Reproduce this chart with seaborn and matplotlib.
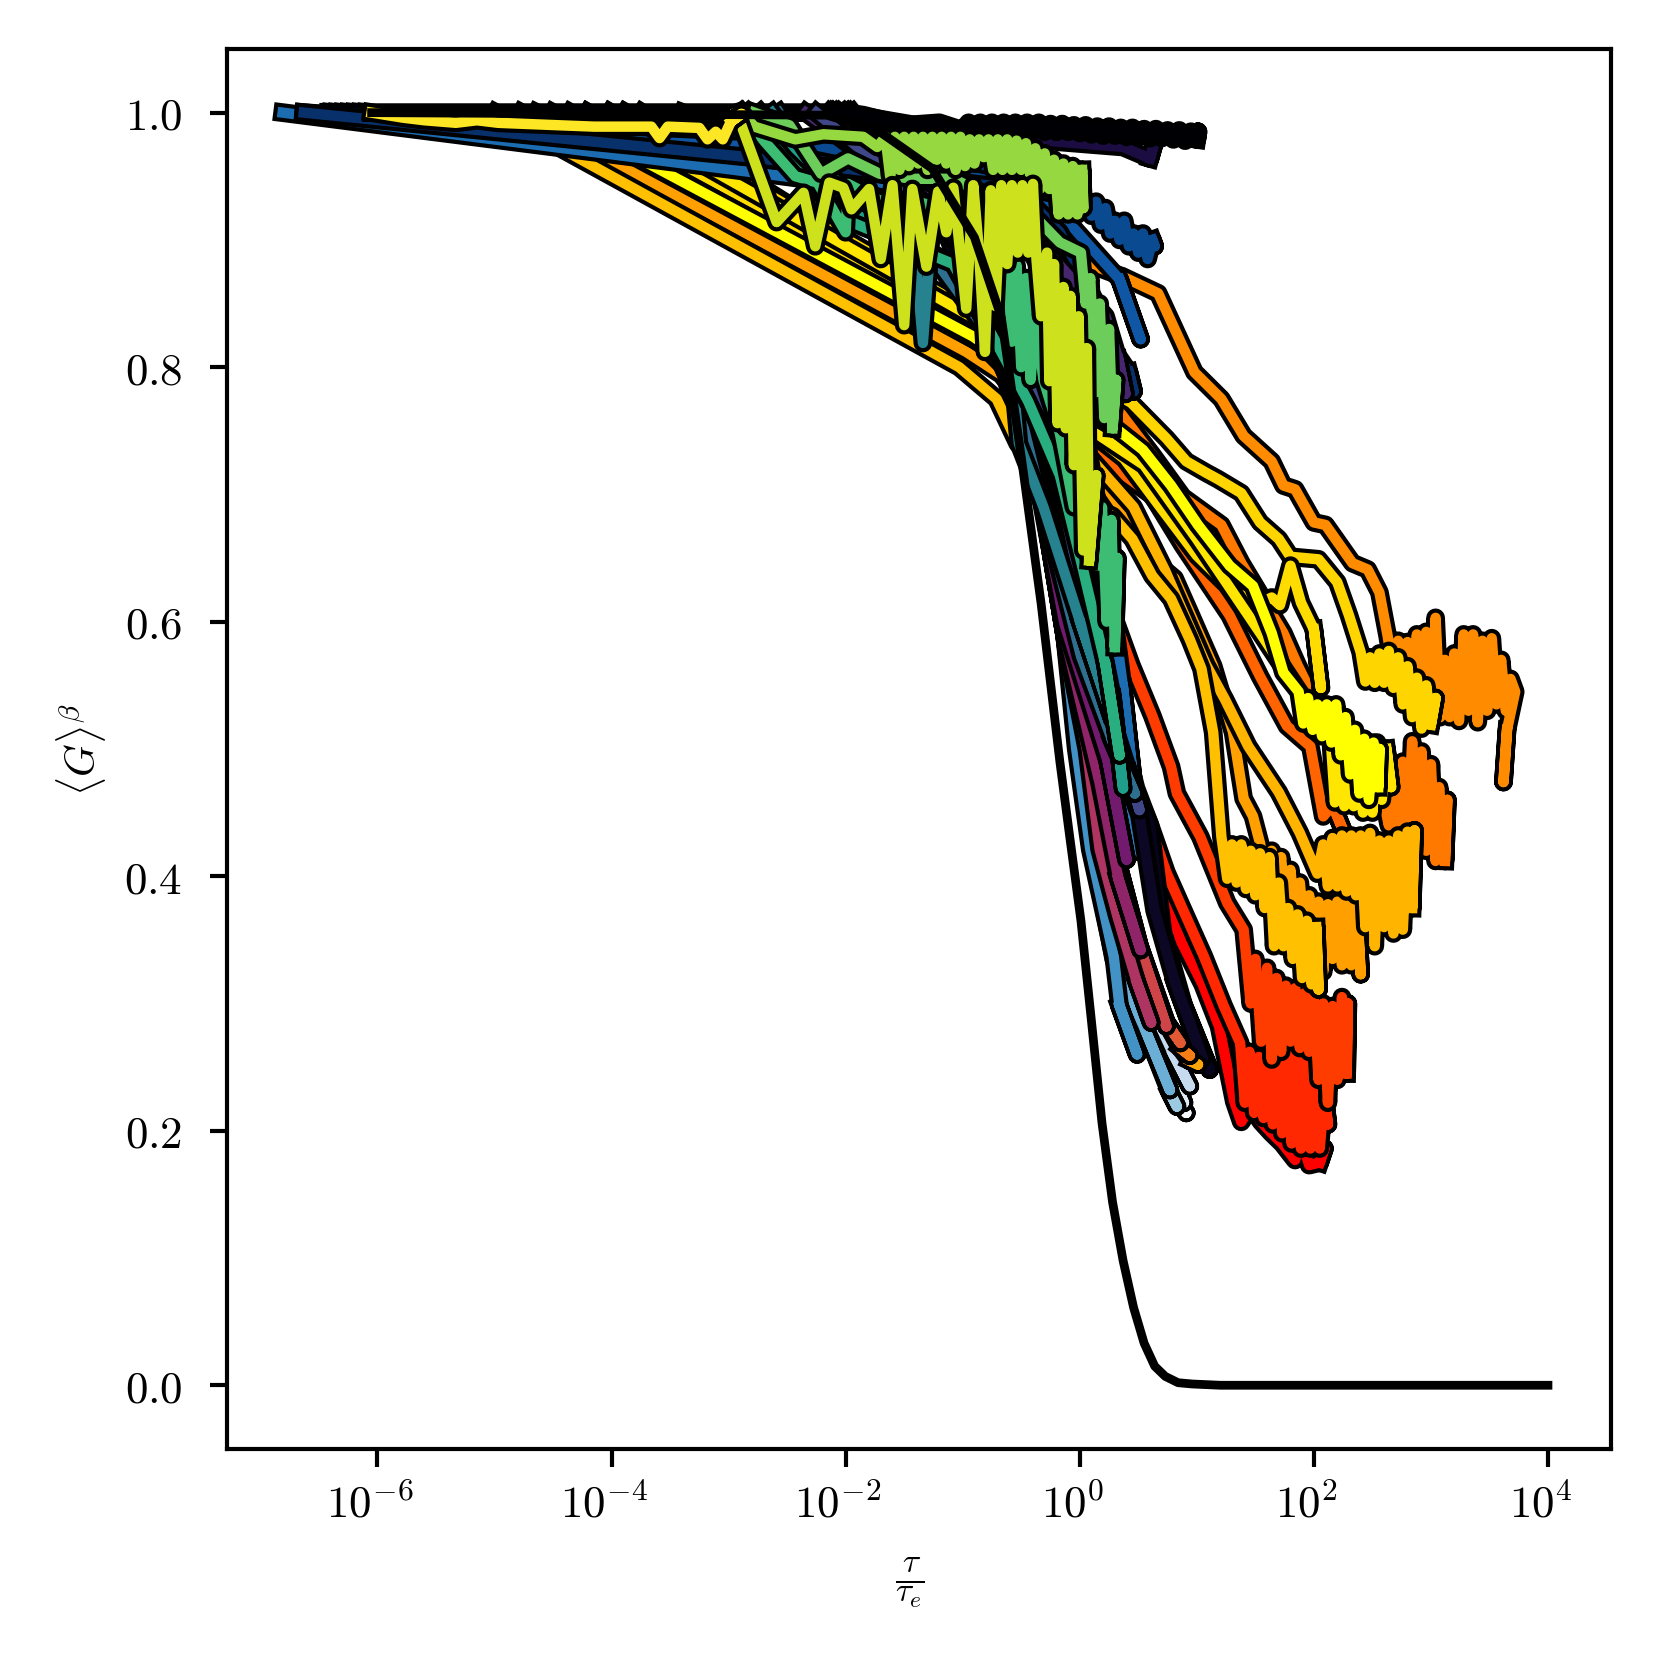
import pandas as pd
import matplotlib
matplotlib.use("Agg")
import matplotlib.pyplot as plt
import matplotlib.patheffects as pe
from matplotlib.transforms import ScaledTranslation
import seaborn as sns

# log10(tau/tau_e) and <G>^beta, one pair per curve
# autumn family
e_a00 = [-4.20, -0.71, -0.17, 0.19, 0.48, 0.60, 0.73, 0.87, 1.05, 1.19, 1.32, 1.38, 1.46, 1.55, 1.64, 1.73, 1.84, 1.89, 1.96, 2.05, 2.09]
g_a00 = [1.0, 0.815, 0.648, 0.548, 0.456, 0.423, 0.382, 0.348, 0.315, 0.282, 0.223, 0.207, 0.219, 0.207, 0.198, 0.190, 0.177, 0.194, 0.173, 0.175, 0.186]
e_a01 = [-4.01, -0.67, -0.13, 0.24, 0.48, 0.60, 0.74, 0.89, 1.06, 1.23, 1.37, 1.41, 1.45, 1.49, 1.53, 1.57, 1.61, 1.65, 1.69, 1.73, 1.77, 1.81, 1.85, 1.89, 1.93, 1.97, 2.01, 2.05, 2.09, 2.12]
g_a01 = [1.0, 0.815, 0.656, 0.556, 0.469, 0.440, 0.403, 0.372, 0.337, 0.298, 0.269, 0.222, 0.262, 0.214, 0.258, 0.210, 0.262, 0.205, 0.258, 0.198, 0.261, 0.190, 0.258, 0.186, 0.256, 0.186, 0.246, 0.186, 0.228, 0.205]
e_a02 = [-3.88, -0.58, -0.08, 0.44, 0.62, 0.78, 0.83, 1.03, 1.26, 1.40, 1.46, 1.50, 1.55, 1.60, 1.64, 1.68, 1.72, 1.76, 1.80, 1.84, 1.88, 1.92, 1.96, 2.00, 2.04, 2.08, 2.12, 2.16, 2.20, 2.24, 2.28, 2.29]
g_a02 = [1.0, 0.823, 0.698, 0.566, 0.526, 0.486, 0.465, 0.431, 0.379, 0.358, 0.300, 0.335, 0.270, 0.328, 0.256, 0.320, 0.262, 0.314, 0.270, 0.312, 0.265, 0.308, 0.262, 0.304, 0.240, 0.300, 0.222, 0.298, 0.240, 0.305, 0.245, 0.300]
e_a03 = [-3.74, -0.53, 0.01, 0.62, 0.88, 1.28, 1.54, 1.77, 1.97, 2.08, 2.16, 2.25]
g_a03 = [1.0, 0.815, 0.740, 0.699, 0.660, 0.605, 0.557, 0.518, 0.502, 0.447, 0.456, 0.436]
e_a04 = [-4.64, -0.62, 0.34, 0.62, 0.88, 1.21, 1.38, 1.74, 1.86, 2.09, 2.27, 2.54, 2.60, 2.64, 2.68, 2.72, 2.76, 2.80, 2.84, 2.88, 2.92, 2.96, 3.00, 3.04, 3.07, 3.12, 3.14]
g_a04 = [1.0, 0.815, 0.765, 0.731, 0.698, 0.676, 0.646, 0.591, 0.566, 0.523, 0.498, 0.456, 0.458, 0.440, 0.470, 0.438, 0.490, 0.431, 0.506, 0.431, 0.498, 0.420, 0.488, 0.412, 0.470, 0.412, 0.460]
e_a05 = [-3.39, 0.37, 0.67, 0.98, 1.21, 1.40, 1.64, 1.74, 1.84, 2.00, 2.10, 2.33, 2.46, 2.56, 2.63, 2.68, 2.72, 2.76, 2.80, 2.84, 2.88, 2.92, 2.96, 3.00, 3.04, 3.08, 3.12, 3.16, 3.20, 3.24, 3.28, 3.32, 3.36, 3.40, 3.44, 3.48, 3.52, 3.56, 3.60, 3.64, 3.68, 3.72, 3.65, 3.62]
g_a05 = [1.0, 0.871, 0.858, 0.796, 0.775, 0.746, 0.726, 0.707, 0.704, 0.678, 0.676, 0.646, 0.641, 0.623, 0.589, 0.560, 0.585, 0.550, 0.584, 0.540, 0.590, 0.535, 0.592, 0.530, 0.603, 0.525, 0.570, 0.525, 0.575, 0.522, 0.590, 0.530, 0.590, 0.521, 0.585, 0.530, 0.587, 0.535, 0.570, 0.530, 0.555, 0.545, 0.515, 0.474]
e_a06 = [-4.77, -0.97, -0.67, -0.17, 0.22, 0.45, 0.68, 0.81, 0.94, 1.14, 1.31, 1.40, 1.48, 1.54, 1.60, 1.64, 1.68, 1.72, 1.76, 1.80, 1.84, 1.88, 1.92, 1.96, 2.00, 2.04, 2.08, 2.12, 2.16, 2.20, 2.24, 2.28, 2.32, 2.36, 2.40]
g_a06 = [1.0, 0.812, 0.794, 0.736, 0.707, 0.676, 0.644, 0.634, 0.607, 0.565, 0.513, 0.461, 0.447, 0.426, 0.395, 0.420, 0.375, 0.415, 0.370, 0.405, 0.365, 0.395, 0.355, 0.385, 0.345, 0.380, 0.325, 0.378, 0.335, 0.380, 0.330, 0.385, 0.330, 0.390, 0.323]
e_a07 = [-4.35, -0.85, -0.17, 0.46, 0.73, 1.08, 1.24, 1.44, 1.70, 1.88, 2.03, 2.08, 2.12, 2.16, 2.20, 2.24, 2.28, 2.32, 2.36, 2.40, 2.44, 2.48, 2.52, 2.56, 2.60, 2.64, 2.68, 2.72, 2.76, 2.80, 2.84, 2.86]
g_a07 = [1.0, 0.819, 0.756, 0.690, 0.640, 0.566, 0.539, 0.502, 0.466, 0.434, 0.402, 0.425, 0.392, 0.430, 0.392, 0.432, 0.388, 0.432, 0.385, 0.432, 0.360, 0.434, 0.345, 0.428, 0.360, 0.428, 0.355, 0.432, 0.358, 0.435, 0.375, 0.436]
e_a08 = [-4.99, -1.03, -0.71, -0.53, -0.17, 0.28, 0.45, 0.62, 0.78, 0.94, 1.04, 1.14, 1.21, 1.26, 1.30, 1.34, 1.38, 1.42, 1.46, 1.50, 1.54, 1.58, 1.62, 1.66, 1.70, 1.74, 1.78, 1.82, 1.86, 1.90, 1.94, 1.98, 2.02, 2.04]
g_a08 = [1.0, 0.800, 0.775, 0.740, 0.702, 0.683, 0.665, 0.636, 0.618, 0.586, 0.563, 0.513, 0.431, 0.398, 0.425, 0.395, 0.425, 0.390, 0.420, 0.385, 0.418, 0.375, 0.415, 0.345, 0.395, 0.345, 0.375, 0.335, 0.370, 0.320, 0.365, 0.315, 0.360, 0.311]
e_a09 = [-3.88, 0.44, 0.74, 0.91, 1.08, 1.18, 1.38, 1.54, 1.70, 1.80, 2.04, 2.20, 2.30, 2.40, 2.44, 2.48, 2.52, 2.56, 2.60, 2.64, 2.68, 2.72, 2.76, 2.80, 2.84, 2.88, 2.92, 2.96, 3.00, 3.04]
g_a09 = [1.0, 0.772, 0.744, 0.726, 0.717, 0.712, 0.701, 0.678, 0.665, 0.651, 0.649, 0.631, 0.605, 0.576, 0.553, 0.572, 0.552, 0.575, 0.552, 0.577, 0.548, 0.572, 0.535, 0.565, 0.525, 0.556, 0.516, 0.550, 0.519, 0.540]
e_a10 = [-4.20, -0.85, -0.17, 0.38, 0.68, 1.00, 1.32, 1.55, 1.64, 1.71, 1.80, 1.89, 2.00, 2.06]
g_a10 = [1.0, 0.831, 0.768, 0.728, 0.691, 0.652, 0.623, 0.615, 0.619, 0.613, 0.644, 0.615, 0.594, 0.548]
e_a11 = [-4.01, -0.76, 0.01, 0.55, 1.00, 1.55, 1.91, 2.14, 2.18, 2.22, 2.26, 2.30, 2.34, 2.38, 2.42, 2.46, 2.50, 2.54, 2.58, 2.62, 2.66]
g_a11 = [1.0, 0.831, 0.756, 0.723, 0.665, 0.590, 0.540, 0.513, 0.458, 0.500, 0.455, 0.480, 0.455, 0.490, 0.450, 0.505, 0.450, 0.505, 0.460, 0.500, 0.470]
e_a12 = [-4.50, -0.91, -0.31, 0.32, 0.54, 0.78, 1.01, 1.28, 1.48, 1.64, 1.74, 1.87, 1.91, 1.95, 1.99, 2.03, 2.07, 2.11, 2.15, 2.19, 2.23, 2.27, 2.31, 2.35, 2.39, 2.43, 2.47, 2.51, 2.55, 2.56]
g_a12 = [1.0, 0.824, 0.785, 0.751, 0.735, 0.707, 0.676, 0.644, 0.628, 0.591, 0.560, 0.545, 0.520, 0.540, 0.515, 0.535, 0.510, 0.535, 0.505, 0.535, 0.495, 0.525, 0.480, 0.515, 0.465, 0.508, 0.460, 0.505, 0.470, 0.500]

# blues family
e_b00 = [-6.40, -1.08, -0.53, -0.13, 0.10, 0.37, 0.60, 0.78, 0.91]
g_b00 = [1.0, 0.936, 0.815, 0.590, 0.440, 0.340, 0.277, 0.232, 0.214]
e_b01 = [-6.35, -1.08, -0.53, -0.13, 0.10, 0.37, 0.60, 0.78, 0.89]
g_b01 = [1.0, 0.936, 0.815, 0.590, 0.440, 0.345, 0.285, 0.245, 0.222]
e_b02 = [-6.30, -1.08, -0.53, -0.13, 0.10, 0.37, 0.60, 0.80, 0.94]
g_b02 = [1.0, 0.936, 0.815, 0.590, 0.445, 0.355, 0.300, 0.260, 0.235]
e_b03 = [-6.25, -1.08, -0.53, -0.13, 0.10, 0.37, 0.57, 0.77, 0.83]
g_b03 = [1.0, 0.936, 0.815, 0.590, 0.435, 0.335, 0.277, 0.230, 0.219]
e_b04 = [-6.20, -1.08, -0.53, -0.13, 0.09, 0.29, 0.57, 0.77]
g_b04 = [1.0, 0.936, 0.815, 0.590, 0.430, 0.335, 0.277, 0.232]
e_b05 = [-6.15, -1.08, -0.53, -0.13, -0.03, 0.09, 0.29, 0.34, 0.49]
g_b05 = [1.0, 0.936, 0.815, 0.590, 0.500, 0.421, 0.337, 0.298, 0.260]
e_b06 = [-6.10, -1.08, -0.53, -0.08, 0.24, 0.42, 0.51]
g_b06 = [1.0, 0.936, 0.815, 0.648, 0.506, 0.448, 0.419]
e_b07 = [-6.81, -2.78, -0.62, -0.13, 0.19, 0.37, 0.46]
g_b07 = [1.0, 0.953, 0.927, 0.840, 0.673, 0.548, 0.473]
e_b08 = [-6.63, -2.83, -0.53, -0.04, 0.34, 0.52]
g_b08 = [1.0, 0.975, 0.952, 0.908, 0.869, 0.822]
e_b09 = [-6.42, -2.83, 0.06, 0.10, 0.14, 0.18, 0.22, 0.26, 0.30, 0.34, 0.38, 0.42, 0.46, 0.50, 0.54, 0.58, 0.62, 0.64]
g_b09 = [1.0, 0.985, 0.931, 0.919, 0.930, 0.912, 0.925, 0.905, 0.915, 0.900, 0.915, 0.895, 0.905, 0.890, 0.905, 0.885, 0.900, 0.895]
e_b10 = [-6.63, -2.83, -0.53, -0.17, 0.12, 0.28, 0.42, 0.46]
g_b10 = [1.0, 0.965, 0.940, 0.906, 0.854, 0.815, 0.796, 0.781]

# inferno family
e_i00 = [-2.03, -1.08, -0.17, 0.37, 0.60, 0.64]
g_i00 = [1.0, 0.985, 0.977, 0.973, 0.964, 0.977]
e_i01 = [-6.05, -2.00, -1.85, -1.50, -1.20, -1.00, -0.95, -0.90, -0.85, -0.80, -0.75, -0.70, -0.65, -0.60, -0.55, -0.50, -0.45, -0.40, -0.35, -0.30, -0.25, -0.20, -0.15, -0.10, -0.05, 0.00, 0.05, 0.10, 0.15, 0.20, 0.25, 0.30, 0.35, 0.40, 0.45, 0.50, 0.55, 0.60, 0.65, 0.70, 0.75, 0.80, 0.85, 0.90, 0.95, 1.00, 1.01]
g_i01 = [1.0, 1.0, 0.998, 0.990, 0.992, 0.986, 0.992, 0.986, 0.992, 0.986, 0.992, 0.986, 0.992, 0.986, 0.992, 0.986, 0.992, 0.986, 0.992, 0.985, 0.991, 0.985, 0.991, 0.985, 0.990, 0.984, 0.990, 0.983, 0.989, 0.982, 0.989, 0.982, 0.988, 0.981, 0.988, 0.981, 0.987, 0.980, 0.987, 0.980, 0.986, 0.979, 0.986, 0.978, 0.985, 0.979, 0.985]
e_i02 = [-2.14, -1.26, -0.53, -0.08, 0.37, 0.60, 0.71, 0.89, 1.11]
g_i02 = [1.0, 0.931, 0.773, 0.623, 0.490, 0.440, 0.356, 0.298, 0.248]
e_i03 = [-2.12, -1.26, -0.53, -0.10, 0.35, 0.51, 0.64, 0.82, 1.05]
g_i03 = [1.0, 0.931, 0.773, 0.620, 0.490, 0.448, 0.373, 0.315, 0.257]
e_i04 = [-2.10, -1.21, -0.49, -0.13, 0.24, 0.40]
g_i04 = [1.0, 0.931, 0.773, 0.598, 0.490, 0.413]
e_i05 = [-2.07, -1.17, -0.46, -0.13, 0.17, 0.33, 0.52]
g_i05 = [1.0, 0.931, 0.773, 0.590, 0.473, 0.398, 0.342]
e_i06 = [-2.05, -1.12, -0.46, -0.13, 0.06, 0.17, 0.32, 0.49, 0.61]
g_i06 = [1.0, 0.931, 0.773, 0.590, 0.500, 0.421, 0.369, 0.316, 0.285]
e_i07 = [-2.02, -1.71, -1.08, -0.44, -0.08, 0.24, 0.51, 0.74]
g_i07 = [1.0, 0.964, 0.923, 0.773, 0.590, 0.440, 0.345, 0.282]
e_i08 = [-1.99, -1.68, -1.06, -0.44, -0.08, 0.24, 0.51, 0.74, 0.86]
g_i08 = [1.0, 0.964, 0.923, 0.773, 0.590, 0.440, 0.345, 0.285, 0.269]
e_i09 = [-1.97, -1.66, -1.04, -0.44, -0.08, 0.24, 0.51, 0.74, 0.86, 0.94]
g_i09 = [1.0, 0.964, 0.923, 0.773, 0.590, 0.440, 0.345, 0.285, 0.265, 0.259]
e_i10 = [-1.94, -1.63, -1.02, -0.44, -0.08, 0.24, 0.51, 0.74, 0.86, 0.94, 1.01]
g_i10 = [1.0, 0.964, 0.923, 0.773, 0.590, 0.440, 0.345, 0.285, 0.265, 0.255, 0.252]

# viridis family
e_v01 = [-2.34, -1.44, -0.26, 0.22, 0.33, 0.39]
g_v01 = [1.0, 0.939, 0.889, 0.840, 0.806, 0.779]
e_v02 = [-2.25, -1.35, -0.53, -0.17, 0.19, 0.42, 0.51]
g_v02 = [1.0, 0.931, 0.839, 0.706, 0.548, 0.481, 0.452]
e_v03 = [-2.57, -2.25, -1.44, -0.62, -0.40, 0.01, 0.28, 0.47]
g_v03 = [1.0, 0.956, 0.910, 0.806, 0.723, 0.573, 0.506, 0.465]
e_v04 = [-2.63, -2.34, -1.98, -1.44, -1.34, -1.26, -1.03, -0.94, -0.71, -0.62, -0.52, -0.31, 0.01, 0.28]
g_v04 = [1.0, 0.964, 0.940, 0.927, 0.819, 0.915, 0.898, 0.856, 0.890, 0.840, 0.740, 0.690, 0.598, 0.523]
e_v05 = [-2.73, -2.48, -1.98, -1.08, -0.53, -0.17, 0.10, 0.28, 0.37]
g_v05 = [1.0, 0.973, 0.923, 0.881, 0.789, 0.723, 0.623, 0.540, 0.469]
e_v06 = [-2.84, -2.52, -1.98, -1.08, -0.44, -0.17, 0.02, 0.22, 0.34]
g_v06 = [1.0, 0.964, 0.915, 0.881, 0.773, 0.715, 0.644, 0.566, 0.495]
e_v07 = [-2.89, -2.69, -2.43, -2.24, -2.00, -1.98, -1.71, -1.44, -1.08, -0.62, -0.58, -0.54, -0.50, -0.46, -0.42, -0.38, -0.31, -0.17, -0.05, 0.05, 0.15, 0.19, 0.23, 0.27, 0.30, 0.32]
g_v07 = [1.0, 0.977, 0.950, 0.945, 0.906, 0.944, 0.931, 0.931, 0.923, 0.890, 0.820, 0.880, 0.800, 0.870, 0.790, 0.840, 0.790, 0.748, 0.690, 0.723, 0.644, 0.690, 0.600, 0.680, 0.580, 0.650]
e_v08 = [-2.78, -2.48, -2.21, -1.98, -1.71, -1.44, -1.08, -0.35, -0.17, 0.01, 0.05, 0.09, 0.13, 0.17, 0.21, 0.25, 0.28, 0.31]
g_v08 = [1.0, 0.990, 0.952, 0.964, 0.952, 0.948, 0.948, 0.915, 0.898, 0.890, 0.850, 0.870, 0.780, 0.850, 0.760, 0.830, 0.752, 0.790]
e_v09 = [-2.89, -2.78, -2.43, -2.19, -1.85, -1.73, -1.66, -1.62, -1.58, -1.54, -1.50, -1.46, -1.42, -1.38, -1.34, -1.30, -1.26, -1.22, -1.18, -1.14, -1.10, -1.06, -1.02, -0.98, -0.94, -0.90, -0.86, -0.82, -0.78, -0.74, -0.70, -0.66, -0.62, -0.58, -0.54, -0.50, -0.46, -0.42, -0.38, -0.34, -0.30, -0.26, -0.22, -0.18, -0.14, -0.10, -0.06, -0.02, 0.02, 0.03]
g_v09 = [1.0, 0.989, 0.979, 0.983, 0.981, 0.973, 0.981, 0.950, 0.981, 0.955, 0.981, 0.958, 0.981, 0.960, 0.981, 0.955, 0.981, 0.963, 0.981, 0.960, 0.981, 0.955, 0.981, 0.958, 0.979, 0.960, 0.979, 0.965, 0.979, 0.955, 0.979, 0.955, 0.979, 0.955, 0.978, 0.955, 0.976, 0.950, 0.972, 0.940, 0.968, 0.940, 0.963, 0.920, 0.960, 0.920, 0.958, 0.920, 0.955, 0.925]
e_v10 = [-2.93, -2.59, -2.36, -2.26, -2.14, -2.02, -1.95, -1.80, -1.70, -1.60, -1.50, -1.43, -1.31, -1.21, -1.14, -1.08, -0.97, -0.91, -0.86, -0.81, -0.76, -0.72, -0.67, -0.62, -0.58, -0.53, -0.49, -0.44, -0.40, -0.37, -0.33, -0.28, -0.26, -0.22, -0.19, -0.14, -0.12, -0.08, -0.05, -0.01, 0.03, 0.06, 0.08, 0.14]
g_v10 = [1.0, 0.914, 0.937, 0.895, 0.945, 0.941, 0.924, 0.940, 0.885, 0.943, 0.833, 0.940, 0.879, 0.938, 0.906, 0.941, 0.846, 0.943, 0.890, 0.812, 0.939, 0.848, 0.943, 0.881, 0.943, 0.890, 0.943, 0.890, 0.944, 0.885, 0.840, 0.890, 0.789, 0.881, 0.756, 0.863, 0.752, 0.856, 0.723, 0.840, 0.656, 0.815, 0.648, 0.715]
e_v11 = [-6.05, -5.78, -5.60, -5.33, -5.15, -4.97, -4.70, -4.43, -4.15, -3.88, -3.66, -3.59, -3.52, -3.25, -3.18, -3.11, -3.05, -2.98, -2.89]
g_v11 = [1.0, 0.996, 0.994, 0.992, 0.994, 0.992, 0.991, 0.990, 0.989, 0.989, 0.989, 0.980, 0.989, 0.988, 0.979, 0.985, 0.979, 0.993, 0.999]

# black reference curve
e_ref = [-6.05, -2.16, -1.71, -1.26, -0.90, -0.67, -0.49, -0.33, -0.17, -0.08, 0.01, 0.10, 0.19, 0.28, 0.37, 0.46, 0.55, 0.64, 0.73, 0.84, 0.96, 1.20, 4.0]
g_ref = [1.0, 0.998, 0.985, 0.956, 0.902, 0.839, 0.723, 0.614, 0.49, 0.427, 0.365, 0.286, 0.206, 0.144, 0.098, 0.061, 0.033, 0.015, 0.007, 0.002, 0.001, 0.0, 0.0]

curves = [
    (e_a00, g_a00, "#ff0000"), (e_a01, g_a01, "#ff2800"), (e_a02, g_a02, "#ff3c00"),
    (e_a03, g_a03, "#ff6400"), (e_a04, g_a04, "#ff7800"), (e_a05, g_a05, "#ff8c00"),
    (e_a06, g_a06, "#ffa000"), (e_a07, g_a07, "#ffb400"), (e_a08, g_a08, "#ffc000"),
    (e_a09, g_a09, "#ffd500"), (e_a10, g_a10, "#ffdc00"), (e_a11, g_a11, "#ffe600"),
    (e_a12, g_a12, "#ffff00"),
    (e_b00, g_b00, "#f7fbff"), (e_b01, g_b01, "#deebf7"), (e_b02, g_b02, "#c6dbef"),
    (e_b03, g_b03, "#9ecae1"), (e_b04, g_b04, "#6baed6"), (e_b05, g_b05, "#4292c6"),
    (e_b06, g_b06, "#2b7bba"), (e_b07, g_b07, "#1c6cb1"), (e_b08, g_b08, "#0f57a4"),
    (e_b09, g_b09, "#0a4a90"), (e_b10, g_b10, "#08306b"),
    (e_i02, g_i02, "#06041a"), (e_i03, g_i03, "#0b0724"),
    (e_i10, g_i10, "#fca50a"), (e_i09, g_i09, "#f57d15"), (e_i08, g_i08, "#e35933"),
    (e_i07, g_i07, "#cf4446"), (e_i06, g_i06, "#ae3562"), (e_i05, g_i05, "#8f2469"),
    (e_i04, g_i04, "#721a6e"), (e_i00, g_i00, "#1b0c41"), (e_i01, g_i01, "#000004"),
    (e_v01, g_v01, "#46276f"), (e_v02, g_v02, "#3f4788"), (e_v03, g_v03, "#2e6e8e"),
    (e_v04, g_v04, "#26828e"), (e_v05, g_v05, "#1f9e89"), (e_v06, g_v06, "#29af7f"),
    (e_v07, g_v07, "#3dbc74"), (e_v08, g_v08, "#6ccd5a"), (e_v09, g_v09, "#95d840"),
    (e_v10, g_v10, "#cde11d"), (e_v11, g_v11, "#fde725"),
]

x_ticks = [1e-6, 1e-4, 1e-2, 1e0, 1e2, 1e4]
x_tick_labels = ["$10^{-6}$", "$10^{-4}$", "$10^{-2}$", "$10^{0}$", "$10^{2}$", "$10^{4}$"]
y_ticks = [0.0, 0.2, 0.4, 0.6, 0.8, 1.0]
y_tick_labels = ["$0.0$", "$0.2$", "$0.4$", "$0.6$", "$0.8$", "$1.0$"]

sns.set_style("ticks")
plt.rcParams["mathtext.fontset"] = "cm"
plt.rcParams["font.family"] = ["DejaVu Serif"]
plt.rcParams["lines.solid_capstyle"] = "projecting"

frames = []
palette = {}
for i, (e, g, color) in enumerate(curves):
    # step back onto the last but one point so the round join closes the end
    tau = [10.0 ** v for v in e + [e[-2]]]
    frames.append(pd.DataFrame({"tau": tau, "G": g + [g[-2]], "curve": i}))
    palette[i] = color
df = pd.concat(frames, ignore_index=True)
df_ref = pd.DataFrame({"tau": [10.0 ** v for v in e_ref], "G": g_ref})

fig, ax = plt.subplots(figsize=(1661 / 300, 1661 / 300), dpi=300)
fig.subplots_adjust(left=0.1367, right=0.97, top=0.9705, bottom=0.1277)

outline = [pe.Stroke(linewidth=4.5, foreground="black"), pe.Normal()]
sns.lineplot(
    data=df, x="tau", y="G", hue="curve", palette=palette,
    hue_order=list(palette), estimator=None, sort=False, errorbar=None,
    legend=False, linewidth=2.5, path_effects=outline, ax=ax,
)
sns.lineplot(data=df_ref, x="tau", y="G", color="black", estimator=None,
             sort=False, errorbar=None, linewidth=2.1, ax=ax)

ax.set_xscale("log")
ax.set_xlim(10 ** -7.285, 10 ** 4.54)
ax.set_ylim(-0.05, 1.05)
ax.set_xticks(x_ticks)
ax.set_xticklabels(x_tick_labels)
ax.set_yticks(y_ticks)
ax.set_yticklabels(y_tick_labels)
ax.minorticks_off()
ax.tick_params(axis="x", length=4.2, width=1, labelsize=10.8, pad=4, color="black", labelcolor="black")
ax.tick_params(axis="y", length=4.2, width=1, labelsize=10.8, pad=6.5, color="black", labelcolor="black")
shift = ScaledTranslation(-1.8 / 72, 0, fig.dpi_scale_trans)
for label in ax.get_xticklabels():
    label.set_transform(label.get_transform() + shift)
for spine in ax.spines.values():
    spine.set_visible(True)
    spine.set_linewidth(1)
    spine.set_color("black")
ax.set_xlabel(r"$\frac{\tau}{\tau_e}$", fontsize=11.5, color="black", labelpad=7, x=0.493)
ax.set_ylabel(r"$\langle G \rangle^{\beta}$", fontsize=10, color="black")

fig.savefig("out.png", dpi=300)
plt.close(fig)
